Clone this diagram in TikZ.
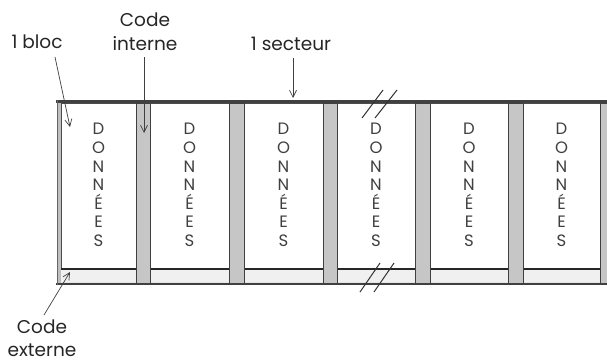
\documentclass[tikz,border=0pt]{standalone}
\usepackage{fontspec}
\setmainfont{Poppins}
\usetikzlibrary{arrows.meta}
\begin{document}
\begin{tikzpicture}[x=1pt,y=-1pt,
  lbl/.style={font=\fontsize{18.5}{24}\selectfont, text=black!85, inner sep=0pt, align=center},
  data/.style={font=\fontsize{16.5}{18.6}\selectfont, text=black!75, inner sep=0pt, align=center},
  sep/.style={fill=gray!45, draw=black!75, line width=0.8pt},
  col/.style={fill=white, draw=black!70, line width=0.6pt},
  ptr/.style={draw=black!75, line width=0.7pt, -{Straight Barb[length=7pt,width=7pt]}},
  brk/.style={draw=black!80, line width=1pt}]
\useasboundingbox (0,0) rectangle (607,362);
\begin{scope}
\clip (0,0) rectangle (607,362);
% outer band
\fill[gray!20] (57,100) rectangle (620,284);
\fill[gray!50] (57,100) rectangle (61,284);
% data columns
\foreach \i/\a/\b in {1/61/136,2/150/229,3/244/323,4/337/415,5/430/508,6/523/600}{
  \draw[col] (\a,103) rectangle (\b,269);
  \fill[gray!12] (\a,270) rectangle (\b,282);
  \draw[black!85, line width=1.2pt] (\a,269) -- (\b,269);
  \node[data] (d\i) at ({(\a+\b)/2},185) {D\\O\\N\\N\\É\\E\\S};
}
% separators
\foreach \a/\b in {136/150,229/244,323/337,415/430,508/523,600/615}{
  \draw[sep] (\a,103) rectangle (\b,283);
}
% outer frame lines
\draw[black!75, line width=3pt] (56,101.5) -- (620,101.5);
\draw[black!75, line width=2.5pt] (56,284) -- (620,284);
\draw[black!60, line width=1pt] (57,100) -- (57,285);
\end{scope}
% break marks
\coordinate (t1a) at (362,118); \coordinate (t1b) at (383,90);
\coordinate (t2a) at (375,118); \coordinate (t2b) at (397,90);
\coordinate (b1a) at (360,292); \coordinate (b1b) at (380,263);
\coordinate (b2a) at (374,292); \coordinate (b2b) at (394,263);
\draw[brk] (t1a) -- (t1b);
\draw[brk] (t2a) -- (t2b);
\draw[brk] (b1a) -- (b1b);
\draw[brk] (b2a) -- (b2b);
% labels
\node[lbl] (bloc) at (37,42) {1 bloc};
\node[lbl] (ci) at (145,32) {Code\\interne};
\node[lbl] (sect) at (291,44) {1 secteur};
\node[lbl, font=\fontsize{18.5}{23}\selectfont] (ce) at (42,338) {Code\\externe};
% pointers
\coordinate (blocT) at (70,127);
\coordinate (ciT) at (144,133);
\coordinate (sectT) at (293,98);
\coordinate (ceT) at (70,272);
\draw[ptr] (55,57) -- (blocT);
\draw[ptr] (144,57) -- (ciT);
\draw[ptr] (293,58) -- (sectT);
\draw[ptr] (44,315) -- (ceT);
\end{tikzpicture}
\end{document}
